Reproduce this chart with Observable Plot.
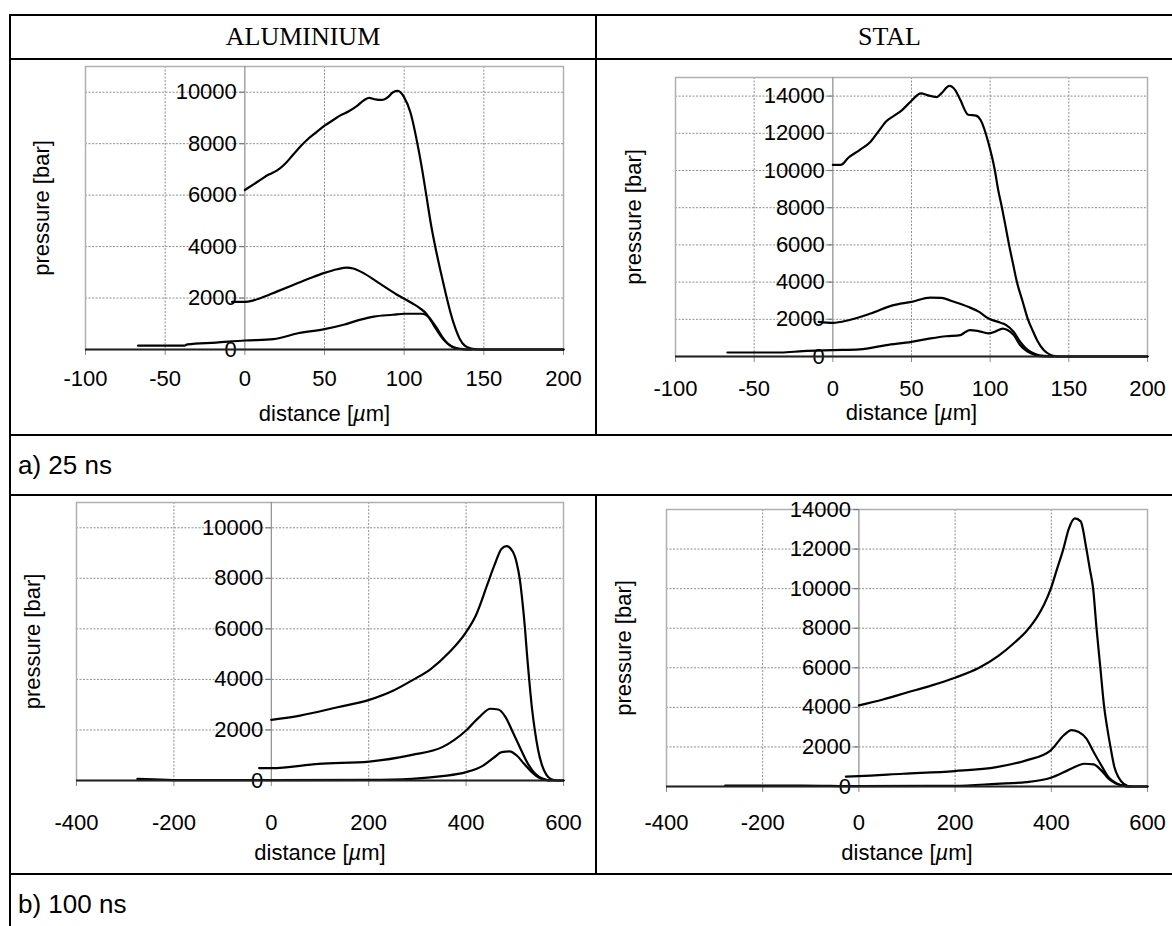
<!DOCTYPE html>
<html><head><meta charset="utf-8">
<script src="https://cdn.jsdelivr.net/npm/d3@7"></script>
<script src="https://cdn.jsdelivr.net/npm/@observablehq/plot@0.6"></script>
<style>
html,body{margin:0;padding:0;background:#fff;}
body{width:1172px;height:926px;position:relative;overflow:hidden;font-family:"Liberation Sans",Arial,sans-serif;}
.hl{position:absolute;height:2px;background:#000;}
.vl{position:absolute;width:2px;background:#000;}
.hdr{position:absolute;font-family:"Liberation Serif","Times New Roman",serif;font-size:26px;text-align:center;line-height:44px;top:15px;height:44px;}
.row{position:absolute;left:18px;font-size:26px;line-height:58px;height:58px;}
.chart{position:absolute;}
</style></head><body>
<div class="hl" style="left:9px;top:14px;width:1163px"></div>
<div class="hl" style="left:9px;top:58px;width:1163px"></div>
<div class="hl" style="left:9px;top:434px;width:1163px"></div>
<div class="hl" style="left:9px;top:494px;width:1163px"></div>
<div class="hl" style="left:9px;top:873px;width:1163px"></div>
<div class="vl" style="left:9px;top:14px;height:912px"></div>
<div class="vl" style="left:595px;top:14px;height:422px"></div>
<div class="vl" style="left:595px;top:494px;height:381px"></div>
<div class="hdr" style="left:11px;width:584px">ALUMINIUM</div>
<div class="hdr" style="left:597px;width:585px">STAL</div>
<div class="row" style="top:436px">a) 25 ns</div>
<div class="row" style="top:875px">b) 100 ns</div>
<div id="c1" class="chart" style="left:11px;top:60px"></div>
<div id="c2" class="chart" style="left:597px;top:60px"></div>
<div id="c3" class="chart" style="left:11px;top:496px"></div>
<div id="c4" class="chart" style="left:597px;top:496px"></div>
<script>
// ---- tick values ----
const xTicks25 = [-100, -50, 0, 50, 100, 150, 200];
const xTicks100 = [-400, -200, 0, 200, 400, 600];
const yTicksAl = [0, 2000, 4000, 6000, 8000, 10000];
const yTicksSt = [0, 2000, 4000, 6000, 8000, 10000, 12000, 14000];
const yMaxAl25 = 11000, yMaxSt25 = 15000, yMaxAl100 = 11000, yMaxSt100 = 14000;

// ---- ALUMINIUM 25 ns : [distance µm, pressure bar] ----
const al25High = [[0,6200],[5,6400],[10,6600],[15,6800],[20,6950],[25,7200],[30,7550],[35,7900],[40,8200],[45,8450],[50,8700],[55,8900],[60,9100],[65,9250],[70,9450],[75,9700],[78,9780],[82,9720],[86,9700],[90,9820],[93,10000],[96,10050],[100,9800],[104,9200],[108,8100],[111,7100],[114,5950],[117,4800],[120,3850],[123,3000],[126,2200],[129,1450],[132,850],[135,400],[138,150],[142,40],[148,0],[200,0]];
const al25Mid = [[-8,1850],[0,1850],[5,1900],[10,2000],[20,2250],[30,2500],[40,2750],[50,2980],[58,3120],[64,3180],[68,3150],[75,2950],[85,2550],[95,2150],[105,1800],[110,1600],[114,1380],[117,1100],[120,800],[123,520],[126,300],[129,150],[133,50],[138,10],[142,0]];
const al25Low = [[-67,150],[-38,150],[-36,200],[-18,270],[0,350],[18,400],[34,640],[50,790],[62,960],[72,1150],[81,1280],[93,1350],[100,1390],[111,1390],[116,1220],[118,1050],[121,780],[124,480],[127,250],[130,110],[134,30],[138,0],[200,0]];

// ---- STAL 25 ns ----
const st25High = [[0,10300],[5,10300],[10,10700],[17,11100],[24,11550],[29,12100],[34,12650],[39,12950],[44,13250],[50,13750],[56,14150],[60,14050],[66,13950],[69,14150],[74,14550],[78,14300],[81,13800],[86,13000],[91,12950],[94,12700],[99,11450],[103,10000],[105,9000],[107.5,8000],[110,6900],[112,6000],[114.5,5000],[117,4000],[120.5,3000],[124,2000],[127,1400],[130,850],[134,350],[138,100],[142,10],[146,0],[200,0]];
const st25Mid = [[-9,1860],[0,1810],[10,1950],[24,2310],[38,2750],[50,2940],[62,3170],[69,3150],[77,2940],[86,2670],[93,2400],[99,2040],[105,1860],[110,1700],[115,1320],[119,800],[124,340],[129,120],[134,30],[140,0]];
const st25Low = [[-67,215],[-33,215],[-19,290],[0,340],[17,380],[34,610],[50,790],[62,970],[72,1090],[81,1150],[84,1300],[87,1420],[92,1380],[99,1240],[103,1330],[108,1500],[111,1420],[115,1150],[119,620],[124,250],[129,70],[134,0],[200,0]];

// ---- ALUMINIUM 100 ns ----
const al100High = [[0,2400],[59,2570],[136,2900],[201,3190],[251,3560],[289,3960],[328,4420],[366,5080],[400,5870],[420,6530],[443,7720],[458,8510],[473,9170],[483,9270],[496,9050],[504,8600],[510,8000],[515,7200],[521,6000],[525,5000],[529.5,4000],[535,2900],[541,2000],[548,1200],[556,600],[565,220],[575,50],[588,0],[600,0]];
const al100Mid = [[-25,490],[0,490],[97,660],[201,750],[289,1015],[351,1320],[400,1980],[427,2510],[450,2840],[466,2810],[481,2510],[496,1910],[512,1250],[527,660],[542,265],[558,65],[570,0]];
const al100Low = [[-275,65],[-171,13],[0,13],[201,25],[289,65],[351,170],[400,330],[435,590],[458,920],[473,1120],[489,1150],[504,990],[519,660],[535,330],[550,105],[565,13],[580,0],[600,0]];

// ---- STAL 100 ns ----
const st100High = [[0,4100],[50,4400],[100,4750],[150,5100],[200,5500],[250,6000],[290,6600],[325,7300],[350,7900],[370,8550],[385,9200],[399,10000],[412,11000],[425,12000],[436,13000],[449,13550],[461,13400],[473,12000],[480,11000],[487,10000],[494,8000],[502,6000],[510,4000],[516,3000],[523,2000],[531,1000],[540,450],[550,150],[566,0],[600,0]];
const st100Mid = [[-27,500],[0,525],[92,645],[199,780],[286,980],[348,1320],[399,1830],[426,2590],[442,2850],[457,2760],[473,2420],[488,1745],[504,1070],[519,475],[535,170],[551,35],[565,0]];
const st100Low = [[-278,50],[-118,50],[0,20],[199,35],[286,135],[348,220],[399,440],[434,815],[457,1070],[469,1150],[488,1120],[504,815],[519,390],[535,135],[551,35],[566,0],[600,0]];

const xLabel = "distance [µm]";
const yLabel = "pressure [bar]";

function drawChart(id, cfg) {
  const {xTicks, yTicks, yMax, series, cell, frame} = cfg;
  const data = series.flatMap((s, k) => s.map(([x, y]) => ({x, y, k})));
  const xMin = xTicks[0], xMax = xTicks[xTicks.length - 1];
  const grid = {stroke: "#8f8f8f", strokeDasharray: "2,1.5", strokeWidth: 1};
  const plot = Plot.plot({
    width: cell.width, height: cell.height,
    marginLeft: frame.left - cell.left,
    marginRight: cell.left + cell.width - frame.right,
    marginTop: frame.top - cell.top,
    marginBottom: cell.top + cell.height - frame.bottom,
    style: {fontFamily: '"Liberation Sans", Arial, sans-serif', fontSize: "22px", background: "transparent", overflow: "visible", color: "#000"},
    x: {domain: [xMin, xMax]},
    y: {domain: [0, yMax], axis: null},
    marks: [
      Plot.ruleX(xTicks.filter(d => d !== 0 && d !== xMin && d !== xMax), grid),
      Plot.ruleY(yTicks.filter(d => d > 0 && d < yMax), grid),
      Plot.frame({stroke: "#b0b0b0", strokeWidth: 1.5}),
      Plot.ruleX([0], {stroke: "#8c8c8c", strokeWidth: 1.2}),
      Plot.ruleY(yTicks, {y: d => d, x1: () => 0, x2: () => 0, insetLeft: -5, stroke: "#777", strokeWidth: 1.2}),
      Plot.axisX({ticks: xTicks, tickFormat: d => String(d), tickSize: 6, tickPadding: cfg.tickPad, stroke: "#8c8c8c", label: null, fontSize: 22}),
      Plot.text(yTicks, {x: () => 0, y: d => d, text: d => String(d), textAnchor: "end", dx: -8, fontSize: 22}),
      Plot.line(data, {x: "x", y: "y", z: "k", curve: "monotone-x", stroke: "#000", strokeWidth: 2.2}),
      Plot.ruleY([0], {stroke: "#222", strokeWidth: 2}),
      Plot.text([xLabel], {frameAnchor: "bottom", dy: cfg.xLabelDy, fontSize: 22}),
      Plot.text([yLabel], {frameAnchor: "left", textAnchor: "middle", rotate: -90, dx: cfg.yLabelDx, fontSize: 22})
    ]
  });
  // italic mu as in the original axis title
  plot.querySelectorAll("text").forEach(t => {
    if (t.textContent === xLabel) {
      t.innerHTML = 'distance [<tspan font-style="italic">µ</tspan>m]';
    }
  });
  document.getElementById(id).appendChild(plot);
}

drawChart("c1", {xTicks: xTicks25, yTicks: yTicksAl, yMax: yMaxAl25, series: [al25High, al25Mid, al25Low],
  cell: {left: 11, top: 60, width: 584, height: 374}, frame: {left: 85, right: 563, top: 66, bottom: 349},
  tickPad: 15, xLabelDy: 71, yLabelDx: -44});
drawChart("c2", {xTicks: xTicks25, yTicks: yTicksSt, yMax: yMaxSt25, series: [st25High, st25Mid, st25Low],
  cell: {left: 597, top: 60, width: 575, height: 374}, frame: {left: 675, right: 1147, top: 77, bottom: 356},
  tickPad: 18, xLabelDy: 63, yLabelDx: -42});
drawChart("c3", {xTicks: xTicks100, yTicks: yTicksAl, yMax: yMaxAl100, series: [al100High, al100Mid, al100Low],
  cell: {left: 11, top: 496, width: 584, height: 377}, frame: {left: 76, right: 563, top: 502, bottom: 780},
  tickPad: 28, xLabelDy: 79, yLabelDx: -44});
drawChart("c4", {xTicks: xTicks100, yTicks: yTicksSt, yMax: yMaxSt100, series: [st100High, st100Mid, st100Low],
  cell: {left: 597, top: 496, width: 575, height: 377}, frame: {left: 666, right: 1147, top: 509, bottom: 786},
  tickPad: 22, xLabelDy: 73, yLabelDx: -43});
</script>
</body></html>
